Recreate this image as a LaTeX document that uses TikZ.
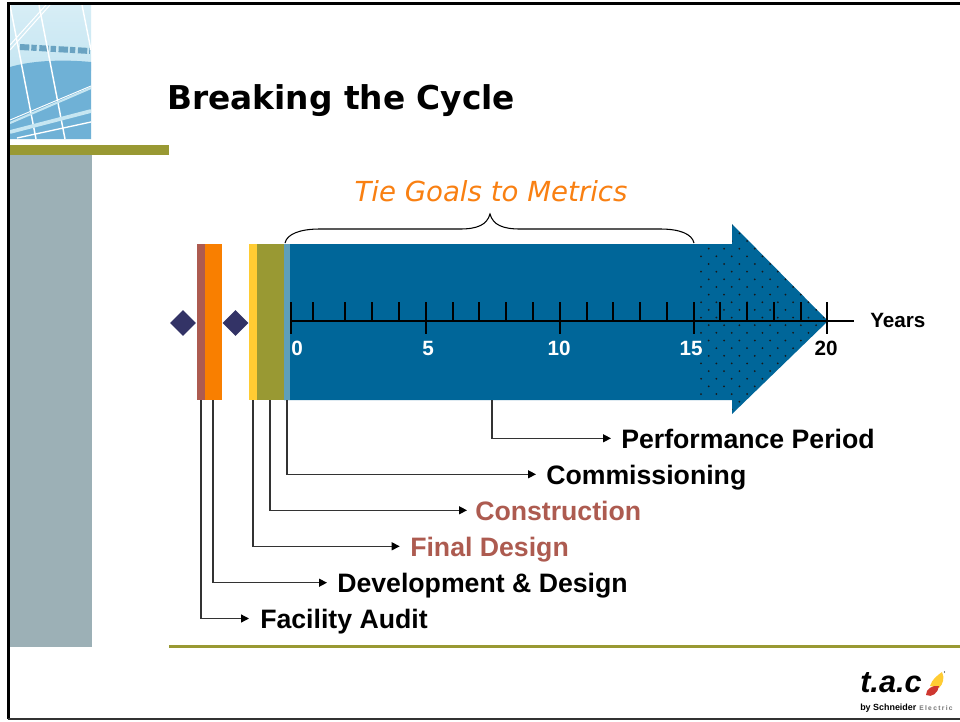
\documentclass[tikz,border=0pt]{standalone}
\usepackage{fontspec}
\setmainfont{Liberation Sans}
\newfontfamily\verd{DejaVu Sans}
\usetikzlibrary{arrows.meta,shapes.geometric}
\definecolor{olivebar}{HTML}{999933}
\definecolor{sidegray}{HTML}{9CB0B6}
\definecolor{bluemain}{HTML}{006699}
\definecolor{bluelight}{HTML}{5F9FBA}
\definecolor{brownbar}{HTML}{AD5B50}
\definecolor{orangebar}{HTML}{F97F00}
\definecolor{yellowbar}{HTML}{FFCC33}
\definecolor{navyd}{HTML}{333366}
\definecolor{titleorange}{HTML}{F98012}
\definecolor{skya}{HTML}{C6E6F2}
\definecolor{skyb}{HTML}{6FB1D6}
\definecolor{skyd}{HTML}{6AA3C2}
\tikzset{
  x=0.75pt,y=-0.75pt,
  stripe/.style={draw=none,rectangle,inner sep=0pt,outer sep=0pt,minimum height=117pt,anchor=north west},
  mark diamond/.style={diamond,fill=navyd,draw=none,inner sep=0pt,minimum width=19.5pt,minimum height=19.5pt,aspect=1},
  conn/.style={draw=black!80,line width=1pt,-{Triangle[length=6pt,width=6pt,color=black]}},
  phase/.style={anchor=base west,inner sep=0pt,font=\fontsize{20}{24}\selectfont\bfseries},
  axisline/.style={line width=1.6pt,black},
  num/.style={anchor=base,inner sep=0pt,font=\fontsize{15.5}{18}\selectfont\bfseries},
}
\begin{document}
\begin{tikzpicture}
\useasboundingbox (0,0) rectangle (960,721);
\fill[white] (0,0) rectangle (960,721);
% corner photo
\begin{scope}
\clip (10,4) rectangle (91,139);
\shade[top color=skya!70!white,bottom color=skya] (10,4) rectangle (91,70);
\fill[skyb] (10,67) .. controls (30,61) and (60,59) .. (91,62) -- (91,139) -- (10,139) -- cycle;
\draw[skyd,line width=4.5pt,dash pattern=on 7pt off 1.5pt on 4pt off 2pt] (20,47) -- (90,51);
\draw[white,line width=1.1pt] (10,5) -- (36,139);
\draw[white,line width=1.1pt] (39,5) -- (65,139);
\draw[white,line width=1.1pt] (82,5) -- (91,50);
\draw[white,line width=0.8pt] (10,50) -- (50,5);
\draw[white,line width=0.8pt] (10,45) -- (46,5);
\draw[skya,line width=1.6pt] (10,123) -- (91,88);
\draw[white,line width=0.7pt] (10,120) -- (91,86);
\draw[skya,line width=2.8pt] (10,132) -- (91,111);
\draw[white,line width=1pt] (17,138) -- (91,122);
\end{scope}
% slide furniture
\fill[sidegray] (9.7,155) rectangle (92,647);
\fill[olivebar] (9.7,145) rectangle (169,155);
\fill[olivebar] (169,645) rectangle (960,648);
\draw[black,line width=2pt] (960,3.7) -- (8.3,3.7) -- (8.3,718.8);
\draw[black!80,line width=1.2pt] (7.6,718.9) -- (960,718.9);
% title
\node[anchor=base west,inner sep=0pt,font=\verd\fontsize{24.6}{28}\selectfont\bfseries] (title) at (167,109) {Breaking the Cycle};
\node[anchor=base,inner sep=0pt,font=\verd\fontsize{20.7}{25}\selectfont\itshape,text=titleorange] (goals) at (491,201) {Tie Goals to Metrics};
% phase stripes
\node[stripe,fill=brownbar,minimum width=6pt] (audit) at (197,244) {};
\node[stripe,fill=orangebar,minimum width=12.75pt] (devel) at (205,244) {};
\node[stripe,fill=yellowbar,minimum width=6pt] (final) at (249,244) {};
\node[stripe,fill=olivebar,minimum width=20.25pt] (constr) at (257,244) {};
% main arrow
\fill[bluemain] (284,244) -- (732,244) -- (732,224) -- (828,321) -- (732,414) -- (732,400) -- (284,400) -- cycle;
\node[stripe,fill=bluelight,minimum width=4.5pt] (commis) at (284,244) {};
\coordinate (perf) at (492,400);
% stipple
\begin{scope}
\clip (697,244) -- (732,244) -- (732,224) -- (828,321) -- (732,414) -- (732,400) -- (697,400) -- cycle;
\foreach \r in {0,...,27}{
  \pgfmathsetmacro{\yy}{218.1+7.65*\r}
  \pgfmathsetmacro{\xo}{mod(\r,2)==0 ? 708.7 : 701}
  \foreach \c in {0,...,8}{
    \fill[black!90] ({\xo+15.35*\c},\yy) circle (1);
  }
}
\end{scope}
% brace
\draw[black,line width=0.8pt] (285,243) .. controls (287,234) and (300,229) .. (320,229) -- (460,229) .. controls (477,229) and (487,225) .. (490,214) .. controls (493,225) and (503,229) .. (520,229) -- (660,229) .. controls (680,229) and (692,234) .. (694,243);
% diamonds
\node[mark diamond] (d1) at (183,323) {};
\node[mark diamond] (d2) at (235.5,323) {};
% axis
\draw[axisline] (291,321) -- (854,321);
\foreach \x in {313,345,372,399,453,479,506,533,587,613,640,667,720,747,774,801}{
  \draw[axisline] (\x,302) -- (\x,321);
}
\foreach \x in {291,426,560,694,827}{
  \draw[axisline] (\x,302) -- (\x,334);
}
\node[num,text=white] (n0) at (297,355) {0};
\node[num,text=white] (n5) at (428,355) {5};
\node[num,text=white] (n10) at (559,355) {10};
\node[num,text=white] (n15) at (691,355) {15};
\node[num] (n20) at (826,355) {20};
\node[anchor=base west,inner sep=0pt,font=\fontsize{15.5}{18}\selectfont\bfseries] (years) at (870,327) {Years};
% labels
\node[phase] (lperf) at (621,448) {Performance Period};
\node[phase] (lcomm) at (546,484) {Commissioning};
\node[phase,text=brownbar] (lcons) at (475,520) {Construction};
\node[phase,text=brownbar] (lfina) at (410,556) {Final Design};
\node[phase] (ldeve) at (337,592) {Development \& Design};
\node[phase] (lfaci) at (260,628) {Facility Audit};
% connector ends
\coordinate (tperf) at (611,438.3);
\coordinate (tcomm) at (536,474.3);
\coordinate (tcons) at (467,510.3);
\coordinate (tfina) at (399.7,546.3);
\coordinate (tdeve) at (327,582.7);
\coordinate (tfaci) at (249,618.5);
% connectors
\draw[conn] (perf) |- (tperf);
\draw[conn] (commis.south) |- (tcomm);
\draw[conn] ([xshift=9.75pt]constr.south west) |- (tcons);
\draw[conn] ([xshift=3pt]final.south west) |- (tfina);
\draw[conn] ([xshift=6pt]devel.south west) |- (tdeve);
\draw[conn] ([xshift=3pt]audit.south west) |- (tfaci);
% logo
\node[anchor=base west,inner sep=0pt,font=\fontsize{23}{26}\selectfont\bfseries\itshape] (tac) at (860,692) {t.a.c};
\fill[yellowbar] (930,686) .. controls (932,679) and (938,675) .. (942,672) .. controls (945,678) and (943,684) .. (939,688) -- cycle;
\fill[brownbar!60!red] (926,695) .. controls (926,689) and (932,685) .. (939,686) .. controls (938,693) and (932,698) .. (926,695) -- cycle;
\fill[black] (944.5,672) circle (0.7);
\node[anchor=base west,inner sep=0pt,font=\fontsize{6.7}{7}\selectfont\bfseries] (by) at (860,710) {by Schneider};
\node[anchor=base west,inner sep=0pt,font=\fontsize{5}{6}\selectfont\bfseries\addfontfeature{LetterSpace=20},text=black!55] (el) at (919,710) {Electric};
\end{tikzpicture}
\end{document}
